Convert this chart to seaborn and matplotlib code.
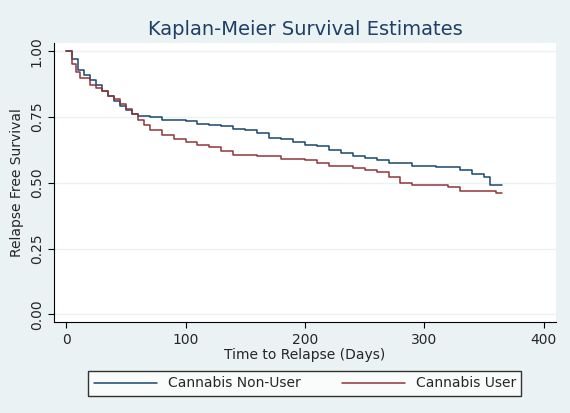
import numpy as np
import pandas as pd
import matplotlib.pyplot as plt
import seaborn as sns

# Kaplan-Meier step points
nonuser_t = [0, 5, 10, 15, 20, 25, 30, 35, 40, 45, 50, 55, 60, 70, 80, 100, 110, 120, 130, 140, 150,
             160, 170, 180, 190, 200, 210, 220, 230, 240, 250, 260, 270, 290, 310, 330, 340, 350, 355, 365]
nonuser_s = [1.0, 0.97, 0.93, 0.91, 0.89, 0.87, 0.85, 0.83, 0.81, 0.79, 0.775, 0.76, 0.755, 0.75, 0.74,
             0.735, 0.725, 0.72, 0.715, 0.705, 0.70, 0.69, 0.67, 0.665, 0.655, 0.645, 0.64, 0.625, 0.615,
             0.60, 0.595, 0.585, 0.575, 0.565, 0.56, 0.55, 0.535, 0.52, 0.49, 0.49]
user_t = [0, 5, 8, 12, 20, 25, 30, 35, 40, 45, 50, 55, 60, 65, 70, 80, 90, 100, 110, 120, 130, 140, 160,
          180, 200, 210, 220, 240, 250, 260, 270, 280, 290, 320, 330, 360, 365]
user_s = [1.0, 0.95, 0.92, 0.90, 0.87, 0.86, 0.85, 0.83, 0.82, 0.80, 0.78, 0.76, 0.74, 0.72, 0.70, 0.68,
          0.665, 0.655, 0.645, 0.635, 0.62, 0.605, 0.60, 0.59, 0.585, 0.575, 0.565, 0.555, 0.55, 0.54,
          0.52, 0.50, 0.49, 0.485, 0.47, 0.46, 0.46]

df = pd.concat([
    pd.DataFrame({'t': nonuser_t, 's': nonuser_s, 'group': 'Cannabis Non-User'}),
    pd.DataFrame({'t': user_t, 's': user_s, 'group': 'Cannabis User'}),
])

sns.set_style('white')
bg = '#eaf2f3'
fig, ax = plt.subplots(figsize=(5.7, 4.13), dpi=100)
fig.patch.set_facecolor(bg)
fig.subplots_adjust(left=0.095, right=0.975, top=0.895, bottom=0.22)

sns.lineplot(data=df, x='t', y='s', hue='group', drawstyle='steps-post', estimator=None,
             palette=['#1a476f', '#90353b'], linewidth=1.1, ax=ax)

ax.set_xlim(-10, 410)
ax.set_ylim(-0.03, 1.03)
ax.set_xticks([0, 100, 200, 300, 400])
ax.set_yticks([0, 0.25, 0.5, 0.75, 1.0])
ax.set_yticklabels(['0.00', '0.25', '0.50', '0.75', '1.00'], rotation=90, va='center')
ax.grid(axis='y', color='#eaf2f3', linewidth=1)
for s in ['top', 'right']:
    ax.spines[s].set_visible(False)
for s in ['left', 'bottom']:
    ax.spines[s].set_color('black')
    ax.spines[s].set_linewidth(0.8)
ax.tick_params(axis='both', length=4, color='black', labelsize=10, left=True, bottom=True)
ax.set_xlabel('Time to Relapse (Days)', fontsize=10, labelpad=1)
ax.set_ylabel('Relapse Free Survival', fontsize=10)
ax.set_title('Kaplan-Meier Survival Estimates', fontsize=14, color='#1e3f66')

h, l = ax.get_legend_handles_labels()
ax.legend(h, l, loc='upper center', bbox_to_anchor=(0.5, -0.15), ncol=2, frameon=True,
          fancybox=False, edgecolor='black', fontsize=10, handlelength=4.5, columnspacing=3)

fig.savefig('out.png', dpi=100, facecolor=bg)
